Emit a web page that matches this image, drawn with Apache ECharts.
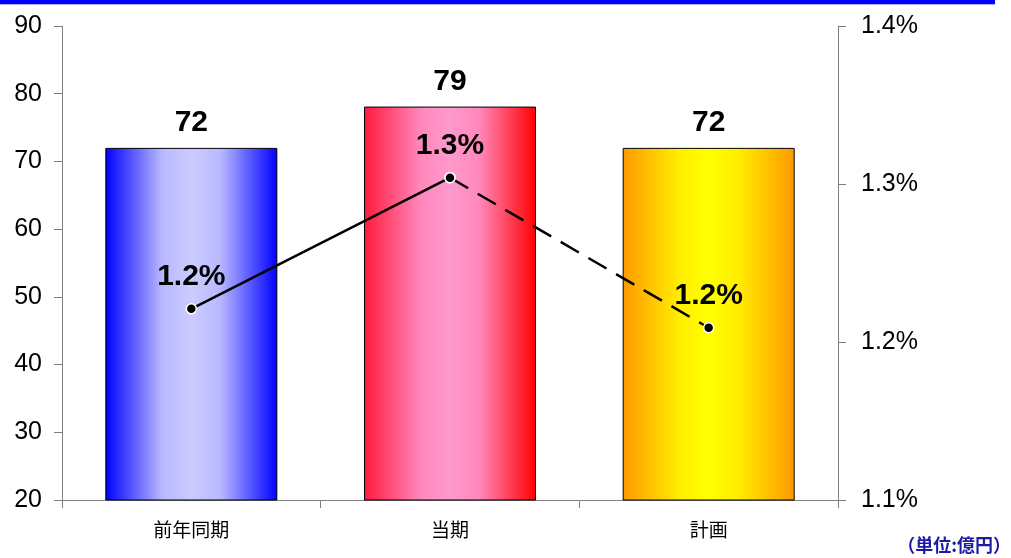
<!DOCTYPE html>
<html>
<head>
<meta charset="utf-8">
<script src="https://cdn.jsdelivr.net/npm/echarts@6/dist/echarts.min.js"></script>
<style>html,body{margin:0;padding:0;background:#fff;}#c{width:1011px;height:558px;}</style>
</head>
<body>
<div id="c"></div>
<script>
const categories = ['前年同期', '当期', '計画'];
const barValues = [72, 78.1, 72];
const barLabels = ['72', '79', '72'];
const ratioValues = [1.221, 1.304, 1.209];
const ratioLabels = ['1.2%', '1.3%', '1.2%'];
const unitText = '（単位:億円）';

const gradients = [
  ['#0000ff', '#b8b8ff', '#ccccff', '#0000ff'],
  ['#ff1a3c', '#ff88bb', '#ff99cc', '#ff0000'],
  ['#ff9900', '#ffee00', '#ffff00', '#ff9900']
];
function grad(c) {
  return new echarts.graphic.LinearGradient(0, 0, 1, 0, [
    {offset: 0, color: c[0]},
    {offset: 0.33, color: c[1]},
    {offset: 0.5, color: c[2]},
    {offset: 0.67, color: c[1]},
    {offset: 1, color: c[3]}
  ]);
}

const chart = echarts.init(document.getElementById('c'), null, {renderer: 'canvas'});
const axisColor = '#808080';
const labelFont = 'Liberation Sans';
chart.setOption({
  animation: false,
  grid: {left: 62, right: 173, top: 26, bottom: 58},
  xAxis: {
    type: 'category',
    data: categories,
    axisLine: {lineStyle: {color: axisColor, width: 1}},
    axisTick: {show: true, length: 8, lineStyle: {color: axisColor}},
    axisLabel: {color: '#000', fontSize: 19, margin: 20, fontFamily: 'Noto Sans CJK JP'}
  },
  yAxis: [{
    type: 'value', min: 20, max: 90, interval: 10,
    axisLine: {show: true, lineStyle: {color: axisColor}},
    axisTick: {show: true, length: 8, lineStyle: {color: axisColor}},
    splitLine: {show: false},
    axisLabel: {color: '#000', fontSize: 25, margin: 20, fontFamily: labelFont}
  }, {
    type: 'value', min: 1.1, max: 1.4, interval: 0.1,
    position: 'right',
    axisLine: {show: true, lineStyle: {color: axisColor}},
    axisTick: {show: true, length: 8, lineStyle: {color: axisColor}},
    splitLine: {show: false},
    axisLabel: {color: '#000', fontSize: 25, margin: 23, fontFamily: labelFont,
      formatter: v => v.toFixed(1) + '%'}
  }],
  series: [{
    type: 'bar',
    barWidth: '66.5%',
    data: barValues.map((v, i) => ({
      value: v,
      itemStyle: {color: grad(gradients[i]), borderColor: '#000', borderWidth: 1},
      label: {formatter: barLabels[i]}
    })),
    label: {show: true, position: 'top', distance: 10, color: '#000', fontSize: 30,
      fontWeight: 'bold', fontFamily: labelFont}
  }, {
    type: 'line',
    yAxisIndex: 1,
    data: [ratioValues[0], ratioValues[1], null],
    symbol: 'circle', symbolSize: 10,
    itemStyle: {color: '#000', borderColor: '#fff', borderWidth: 1.5},
    lineStyle: {color: '#000', width: 2.5},
    label: {show: true, position: 'top', distance: 11, color: '#000', fontSize: 30,
      fontWeight: 'bold', fontFamily: labelFont,
      formatter: p => p.dataIndex === 0 ? ratioLabels[0] : ''},
    z: 5
  }, {
    type: 'line',
    yAxisIndex: 1,
    data: [null, ratioValues[1], ratioValues[2]],
    symbol: 'circle', symbolSize: 10,
    itemStyle: {color: '#000', borderColor: '#fff', borderWidth: 1.5},
    lineStyle: {color: '#000', width: 2.5, type: [21, 11]},
    label: {show: true, position: 'top', distance: 11, color: '#000', fontSize: 30,
      fontWeight: 'bold', fontFamily: labelFont,
      formatter: p => ratioLabels[p.dataIndex]},
    z: 5
  }],
  graphic: [
    {type: 'rect', left: 0, top: 0, shape: {width: 995, height: 4}, style: {fill: '#0000ff'}},
    {type: 'rect', left: 0, top: 4, shape: {width: 995, height: 1}, style: {fill: '#b0b0ff'}},
    {type: 'text', right: 0, top: 536, style: {text: unitText, fill: '#1a1aa6', fontSize: 18,
      fontWeight: 'bold', fontFamily: 'Noto Sans CJK JP'}}
  ]
});
</script>
</body>
</html>
